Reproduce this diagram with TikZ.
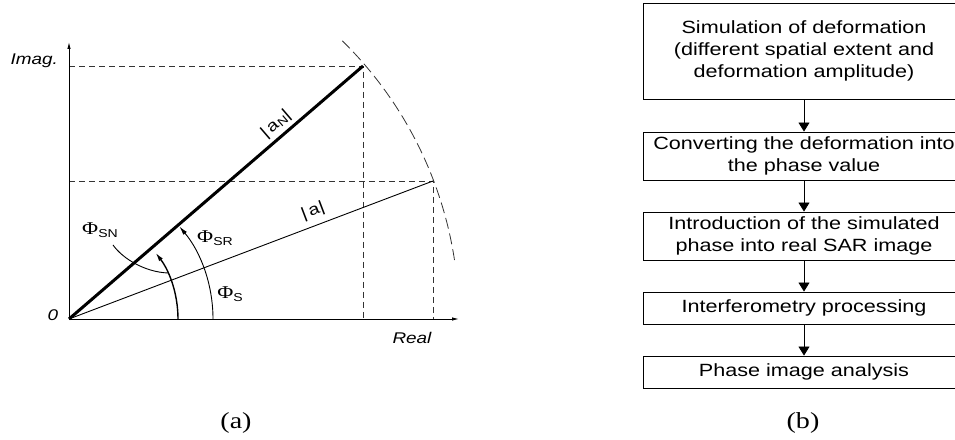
\documentclass[tikz,border=0pt]{standalone}
\usepackage{fontspec}
\setmainfont{Liberation Sans}
\newfontfamily\sfw[FakeStretch=1.22]{Liberation Sans}
\newfontfamily\rmw[FakeStretch=1.22]{Liberation Serif}
\usetikzlibrary{arrows.meta}
\begin{document}
\begin{tikzpicture}[x=1pt,y=1pt,
  thinl/.style={line width=0.9pt},
  dashl/.style={line width=0.85pt, dash pattern=on 6pt off 4pt, black!80},
  axtip/.style={-{Latex[length=7pt,width=3.5pt]}},
  angtip/.style={-{Latex[length=9pt,width=4.5pt]}},
  flowtip/.style={-{Triangle[length=9pt,width=11pt]}},
  lbl/.style={inner sep=0pt, font=\sfw\fontsize{15.5}{18}\selectfont\itshape},
  philbl/.style={inner sep=0pt, font=\rmw\fontsize{18}{20}\selectfont},
  vlbl/.style={inner sep=0pt, font=\sfw\fontsize{16}{18}\selectfont},
  captxt/.style={inner sep=0pt, font=\rmw\fontsize{23}{26}\selectfont},
  box/.style={draw, line width=0.9pt, minimum width=322pt, align=center, inner sep=0pt,
    font=\sfw\fontsize{17.7}{22}\selectfont},
]
\useasboundingbox (0,0) rectangle (955,439);
\clip (0,0) rectangle (955,439);
% ---------- (a) phasor diagram ----------
\coordinate (O) at (69,120);
\coordinate (Ytop) at (69,397);
\coordinate (Xend) at (459,120);
\coordinate (AN) at (363,373);
\coordinate (A) at (433,258);
\coordinate (AN0) at (363,120);
\coordinate (A0) at (433,120);
\coordinate (ANy) at (69,373);
\coordinate (Ay) at (69,258);
\coordinate (sn1) at (113,194);
\coordinate (sn2) at (168,166);

\draw[dashl] (ANy) -- (AN) -- (AN0);
\draw[dashl] (Ay) -- (A) -- (A0);
\draw[thinl, axtip] (O) -- (Ytop);
\draw[thinl, axtip] (O) -- (Xend);
\draw[line width=3pt] (O) -- (AN);
\draw[thinl] (O) -- (A);
\draw[line width=0.8pt, black!80, dash pattern=on 11pt off 5pt]
  ([shift={(8.7:390)}]O) arc[start angle=8.7, end angle=45.5, radius=390];
\draw[thinl, angtip] ([shift={(0:144)}]O) arc[start angle=0, end angle=40, radius=144];
\draw[line width=1.4pt, angtip] ([shift={(0:109)}]O) arc[start angle=0, end angle=37.5, radius=109];
\draw[thinl] (sn1) .. controls (123,180) and (145,167) .. (sn2);

\node[lbl, anchor=east] (imag) at (58,378) {Imag.};
\node[lbl] (zero) at (53,124) {0};
\node[lbl] (real) at (412,101) {Real};
\node[philbl] (psn) at (100,209) {Φ\raisebox{-3pt}{\sfw\fontsize{11.5}{12}\selectfont SN}};
\node[philbl] (psr) at (215,201) {Φ\raisebox{-3pt}{\sfw\fontsize{11.5}{12}\selectfont SR}};
\node[philbl] (ps) at (230,145) {Φ\raisebox{-3pt}{\sfw\fontsize{11.5}{12}\selectfont S}};
\node[vlbl, rotate=40.7] (lan) at (276,315) {|\,a\raisebox{-2.5pt}{\fontsize{11.5}{12}\selectfont N}|};
\node[vlbl, rotate=20.8] (la) at (313,228) {|\,a|};
\node[captxt] (capa) at (236,16) {(a)};

% ---------- (b) flowchart ----------
\node[box, minimum height=96pt] (b1) at (804,388)
  {Simulation of deformation\\(different spatial extent and\\deformation amplitude)};
\node[box, minimum height=48pt] (b2) at (804,283)
  {Converting the deformation into\\the phase value};
\node[box, minimum height=48pt] (b3) at (804,203)
  {Introduction of the simulated\\phase into real SAR image};
\node[box, minimum height=32pt] (b4) at (804,131) {Interferometry processing};
\node[box, minimum height=32pt] (b5) at (804,67) {Phase image analysis};
\draw[thinl, flowtip] (b1) -- (b2);
\draw[thinl, flowtip] (b2) -- (b3);
\draw[thinl, flowtip] (b3) -- (b4);
\draw[thinl, flowtip] (b4) -- (b5);
\node[captxt] (capb) at (803,16) {(b)};
\end{tikzpicture}
\end{document}
